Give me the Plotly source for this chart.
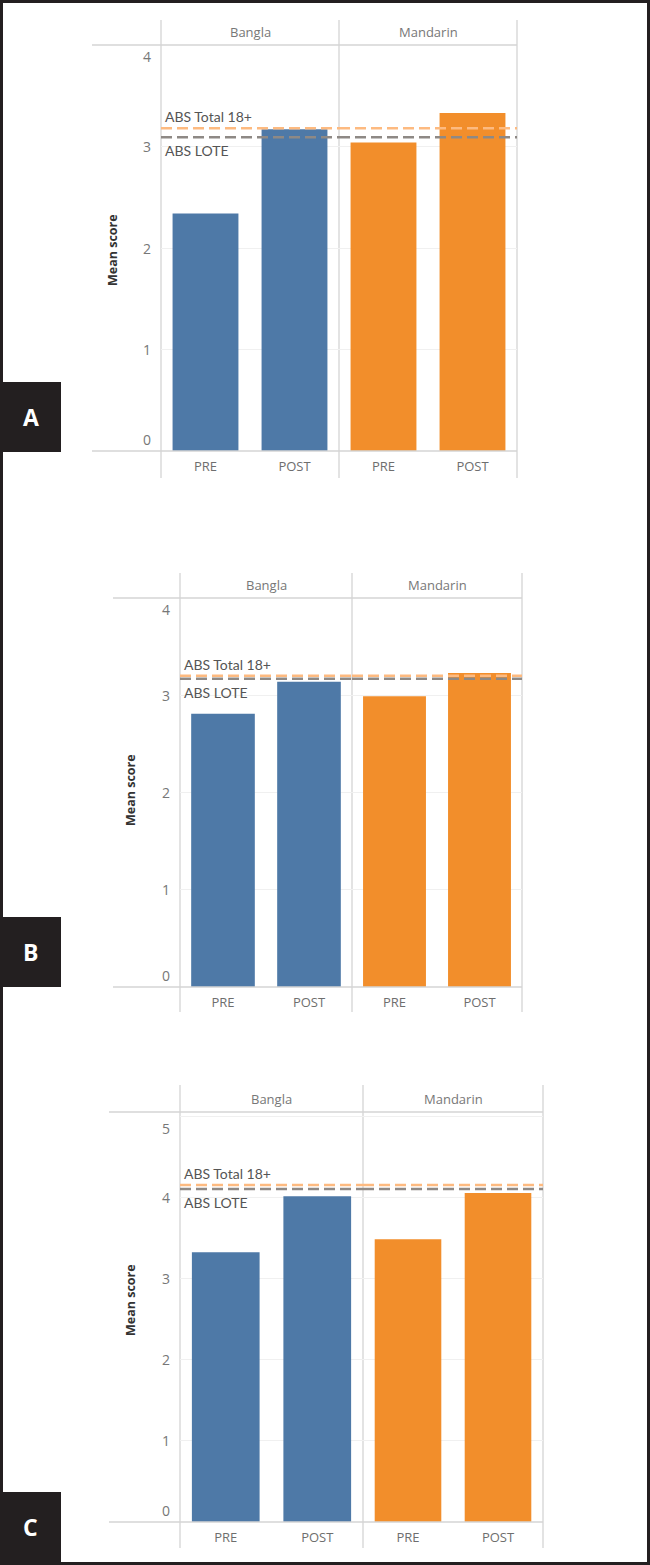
import plotly.graph_objects as go

W, H = 650, 1565

# ---------------- data ----------------
languages = ["Bangla", "Mandarin"]
timepoints = ["PRE", "POST"]
panel_letters = ["A", "B", "C"]

a_bangla = [2.34, 3.17]
a_mandarin = [3.04, 3.33]
b_bangla = [2.81, 3.14]
b_mandarin = [2.99, 3.23]
c_bangla = [3.33, 4.02]
c_mandarin = [3.49, 4.06]

abs_total_18 = [3.18, 3.20, 4.16]
abs_lote = [3.09, 3.17, 4.11]

y_max = [4.0, 4.0, 5.06]
y_ticks = [[0, 1, 2, 3, 4], [0, 1, 2, 3, 4], [0, 1, 2, 3, 4, 5]]

ref_total_label = "ABS Total 18+"
ref_lote_label = "ABS LOTE"
y_title = "Mean score"

# ---------------- style / layout ----------------
BLUE = "#4E79A7"
ORANGE = "#F28E2B"
REF_ORANGE = "#FDBA80"
REF_GRAY = "#8E8985"
FRAME = "#D4D4D4"
GRID = "#F0F0F0"
DARK = "#231F20"
FONT = "Open Sans, Lato, sans-serif"
LFONT = "Lato, Open Sans, sans-serif"

panels = [
    dict(left=161, mid=339, right=517, top=45, bottom=451, hdr_top=20, line_bottom=478,
         frame_left=92, title_x=113, title_y=250, box_top=382),
    dict(left=180, mid=352, right=522, top=598, bottom=987, hdr_top=573, line_bottom=1012,
         frame_left=113, title_x=130, title_y=790, box_top=917),
    dict(left=180, mid=363, right=543, top=1112, bottom=1522, hdr_top=1085, line_bottom=1548,
         frame_left=109, title_x=130, title_y=1300, box_top=1492),
]
panel_values = [(a_bangla, a_mandarin), (b_bangla, b_mandarin), (c_bangla, c_mandarin)]
lang_colors = [BLUE, ORANGE]


def fx(px):
    return px / W


def fy(py):
    return 1 - py / H


fig = go.Figure()
shapes = []
annotations = []
layout_axes = {}

for p, geo in enumerate(panels):
    for l, lang in enumerate(languages):
        k = 2 * p + l + 1
        xname = "x" if k == 1 else f"x{k}"
        yname = "y" if k == 1 else f"y{k}"
        xkey = "xaxis" if k == 1 else f"xaxis{k}"
        ykey = "yaxis" if k == 1 else f"yaxis{k}"
        x0 = geo["left"] if l == 0 else geo["mid"]
        x1 = geo["mid"] if l == 0 else geo["right"]

        fig.add_trace(go.Bar(
            x=timepoints, y=panel_values[p][l], marker=dict(color=lang_colors[l], line=dict(width=0)),
            xaxis=xname, yaxis=yname, showlegend=False, hoverinfo="x+y",
        ))

        layout_axes[xkey] = dict(
            domain=[fx(x0), fx(x1)], anchor=yname, type="category",
            categoryorder="array", categoryarray=timepoints,
            showgrid=False, zeroline=False, showline=False, ticks="",
            ticklabelstandoff=6,
            tickfont=dict(family=FONT, size=13, color="#6E6E6E"),
            fixedrange=True,
        )
        layout_axes[ykey] = dict(
            domain=[fy(geo["bottom"]), fy(geo["top"])], anchor=xname,
            range=[0, y_max[p]], tickvals=y_ticks[p], showticklabels=False,
            showgrid=True, gridcolor=GRID, gridwidth=1, zeroline=False, showline=False,
            ticks="", fixedrange=True,
        )

        # header text
        annotations.append(dict(
            text=lang, xref=f"{xname} domain", x=0.5, yref="paper",
            y=fy((geo["hdr_top"] + geo["top"]) / 2), xanchor="center", yanchor="middle",
            showarrow=False, font=dict(family=FONT, size=13, color="#777777"),
        ))

        # reference lines
        for val, col in ((abs_total_18[p], REF_ORANGE), (abs_lote[p], REF_GRAY)):
            shapes.append(dict(
                type="line", xref=f"{xname} domain", x0=0, x1=1, yref=yname, y0=val, y1=val,
                line=dict(color=col, width=2.5, dash="11px,5px"), layer="above",
            ))

        if l == 0:
            annotations.append(dict(
                text=ref_total_label, xref=f"{xname} domain", x=0, xanchor="left", xshift=2,
                yref=yname, y=abs_total_18[p], yanchor="bottom", yshift=1, showarrow=False,
                font=dict(family=LFONT, size=14, color="#555555"),
            ))
            annotations.append(dict(
                text=ref_lote_label, xref=f"{xname} domain", x=0, xanchor="left", xshift=2,
                yref=yname, y=abs_lote[p], yanchor="top", yshift=-3, showarrow=False,
                font=dict(family=LFONT, size=14, color="#555555"),
            ))
            # y tick labels
            for t in y_ticks[p]:
                ya = "middle"
                if t == 0:
                    ya = "bottom"
                elif t == y_ticks[p][-1]:
                    ya = "top"
                annotations.append(dict(
                    text=str(t), xref=f"{xname} domain", x=0, xanchor="right", xshift=-8,
                    yref=yname, y=t, yanchor=ya, showarrow=False,
                    font=dict(family=FONT, size=14, color="#777777"),
                ))

    # frame lines
    for vx in (geo["left"], geo["mid"], geo["right"]):
        shapes.append(dict(type="line", xref="paper", yref="paper",
                           x0=fx(vx), x1=fx(vx), y0=fy(geo["hdr_top"]), y1=fy(geo["line_bottom"]),
                           line=dict(color=FRAME, width=1.3), layer="below"))
    for hy in (geo["top"], geo["bottom"]):
        shapes.append(dict(type="line", xref="paper", yref="paper",
                           x0=fx(geo["frame_left"]), x1=fx(geo["right"]), y0=fy(hy), y1=fy(hy),
                           line=dict(color=FRAME, width=1.5), layer="above" if hy == geo["bottom"] else "below"))

    # axis title
    annotations.append(dict(
        text=f"<b>{y_title}</b>", xref="paper", yref="paper", x=fx(geo["title_x"]),
        y=fy(geo["title_y"]), textangle=-90, showarrow=False,
        xanchor="center", yanchor="middle", font=dict(family=FONT, size=12.5, color="#333333"),
    ))

    # panel letter box
    shapes.append(dict(type="rect", xref="paper", yref="paper", x0=0, x1=fx(61),
                       y0=fy(geo["box_top"] + 70), y1=fy(geo["box_top"]),
                       fillcolor=DARK, line=dict(width=0), layer="above"))
    annotations.append(dict(
        text=f"<b>{panel_letters[p]}</b>", xref="paper", yref="paper", x=fx(30.5),
        y=fy(geo["box_top"] + 35), showarrow=False, xanchor="center", yanchor="middle",
        font=dict(family="Open Sans, sans-serif", size=23, color="white"),
    ))

# outer border
shapes.append(dict(type="rect", xref="paper", yref="paper", x0=fx(1.5), x1=fx(W - 1.5),
                   y0=fy(H - 1.5), y1=fy(1.5), line=dict(color=DARK, width=3), layer="above"))

fig.update_layout(
    width=W, height=H, margin=dict(l=0, r=0, t=0, b=0),
    paper_bgcolor="white", plot_bgcolor="white",
    bargap=0.26, showlegend=False,
    shapes=shapes, annotations=annotations,
    **layout_axes,
)

fig.write_html(
    "out.html",
    config={"displayModeBar": False},
    post_script="document.body.style.margin='0';document.body.style.overflow='hidden';",
)
